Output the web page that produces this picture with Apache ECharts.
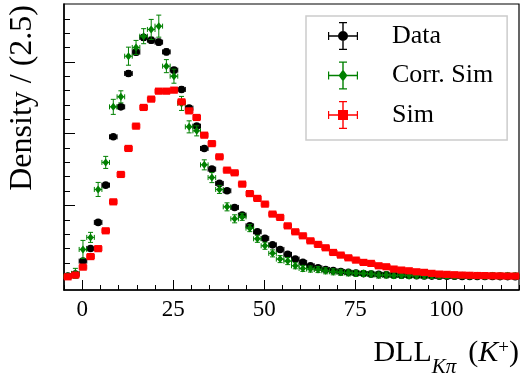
<!DOCTYPE html>
<html>
<head>
<meta charset="utf-8">
<script src="https://cdn.jsdelivr.net/npm/echarts@6/dist/echarts.min.js"></script>
<style>
  html, body { margin: 0; padding: 0; background: #fff; }
  #chart { width: 521px; height: 376px; }
</style>
</head>
<body>
<div id="chart"></div>
<script>
// Histogram binning: 60 equal bins between -5 and 120
const binLow = -5;
const binHigh = 120;
const nBins = 60;

// Normalised densities per bin
const dataDensity = [
  0.00014, 0.00042, 0.00223, 0.00400, 0.00763, 0.01283, 0.01957, 0.02375, 0.02841, 0.03138,
  0.03343, 0.03305, 0.03278, 0.03142, 0.02887, 0.02618, 0.02357, 0.02106, 0.01795, 0.01506,
  0.01307, 0.01204, 0.00972, 0.00865, 0.00715, 0.00632, 0.00540, 0.00450, 0.00386, 0.00317,
  0.00251, 0.00205, 0.00158, 0.00130, 0.00107, 0.00091, 0.00077, 0.00066, 0.00056, 0.00049,
  0.00042, 0.00038, 0.00033, 0.00028, 0.00025, 0.00022, 0.00020, 0.00017, 0.00014, 0.00013,
  0.00012, 0.00011, 0.00010, 0.00010, 0.00009, 0.00008, 0.00008, 0.00007, 0.00007, 0.00006
];
const dataError = [
  0.00010, 0.00014, 0.00014, 0.00016, 0.00022, 0.00026, 0.00030, 0.00034, 0.00038, 0.00040,
  0.00042, 0.00042, 0.00042, 0.00040, 0.00038, 0.00036, 0.00034, 0.00032, 0.00030, 0.00028,
  0.00026, 0.00024, 0.00022, 0.00020, 0.00018, 0.00018, 0.00016, 0.00014, 0.00014, 0.00012,
  0.00012, 0.00010, 0.00010, 0.00010, 0.00008, 0.00008, 0.00008, 0.00008, 0.00006, 0.00006,
  0.00006, 0.00006, 0.00006, 0.00005, 0.00005, 0.00005, 0.00005, 0.00005, 0.00004, 0.00004,
  0.00004, 0.00004, 0.00004, 0.00004, 0.00004, 0.00003, 0.00003, 0.00003, 0.00003, 0.00003
];

const corrSimDensity = [
  0.00014, 0.00052, 0.00386, 0.00554, 0.01223, 0.01600, 0.02375, 0.02515, 0.03082, 0.03204,
  0.03361, 0.03455, 0.03501, 0.02943, 0.02803, 0.02423, 0.02096, 0.02040, 0.01566, 0.01388,
  0.01223, 0.00980, 0.00813, 0.00841, 0.00683, 0.00534, 0.00437, 0.00331, 0.00251, 0.00223,
  0.00158, 0.00121, 0.00112, 0.00105, 0.00088, 0.00074, 0.00066, 0.00059, 0.00052, 0.00050,
  0.00042, 0.00028, 0.00030, 0.00024, 0.00026, 0.00022, 0.00024, 0.00021, 0.00023, 0.00020,
  0.00022, 0.00019, 0.00021, 0.00018, 0.00020, 0.00017, 0.00019, 0.00016, 0.00018, 0.00016
];
const corrSimError = [
  0.00028, 0.00070, 0.00126, 0.00070, 0.00098, 0.00084, 0.00105, 0.00084, 0.00126, 0.00098,
  0.00105, 0.00140, 0.00154, 0.00091, 0.00098, 0.00098, 0.00084, 0.00070, 0.00070, 0.00070,
  0.00056, 0.00056, 0.00056, 0.00049, 0.00049, 0.00049, 0.00049, 0.00049, 0.00049, 0.00049,
  0.00042, 0.00042, 0.00042, 0.00042, 0.00042, 0.00042, 0.00042, 0.00042, 0.00042, 0.00042,
  0.00042, 0.00042, 0.00042, 0.00042, 0.00042, 0.00042, 0.00042, 0.00042, 0.00042, 0.00042,
  0.00042, 0.00042, 0.00042, 0.00042, 0.00042, 0.00042, 0.00042, 0.00042, 0.00042, 0.00042
];

const simDensity = [
  0.00004, 0.00028, 0.00139, 0.00286, 0.00397, 0.00646, 0.01050, 0.01432, 0.01795, 0.02106,
  0.02367, 0.02483, 0.02594, 0.02594, 0.02608, 0.02445, 0.02319, 0.02227, 0.01980, 0.01862,
  0.01678, 0.01492, 0.01455, 0.01297, 0.01165, 0.01098, 0.01018, 0.00879, 0.00833, 0.00715,
  0.00632, 0.00576, 0.00506, 0.00456, 0.00409, 0.00344, 0.00307, 0.00269, 0.00237, 0.00205,
  0.00191, 0.00158, 0.00144, 0.00112, 0.00098, 0.00088, 0.00074, 0.00066, 0.00052, 0.00042,
  0.00038, 0.00033, 0.00028, 0.00025, 0.00022, 0.00021, 0.00018, 0.00017, 0.00014, 0.00014
];
const simError = [
  0.00004, 0.00008, 0.00010, 0.00012, 0.00014, 0.00016, 0.00018, 0.00020, 0.00022, 0.00024,
  0.00024, 0.00026, 0.00026, 0.00026, 0.00026, 0.00026, 0.00024, 0.00024, 0.00022, 0.00022,
  0.00020, 0.00020, 0.00020, 0.00018, 0.00018, 0.00016, 0.00016, 0.00016, 0.00014, 0.00014,
  0.00012, 0.00012, 0.00012, 0.00010, 0.00010, 0.00010, 0.00008, 0.00008, 0.00008, 0.00008,
  0.00006, 0.00006, 0.00006, 0.00006, 0.00006, 0.00005, 0.00005, 0.00005, 0.00004, 0.00004,
  0.00004, 0.00004, 0.00004, 0.00004, 0.00004, 0.00004, 0.00003, 0.00003, 0.00003, 0.00003
];

// Axis ticks
const xMajorTicks = [0, 25, 50, 75, 100];
const xMinorTicks = [-5, 5, 10, 15, 20, 30, 35, 40, 45, 55, 60, 65, 70, 80, 85, 90, 95, 105, 110, 115, 120];
const yMajorTicks = [0, 0.01, 0.02, 0.03];
const yMinorTicks = [0.002, 0.004, 0.006, 0.008, 0.012, 0.014, 0.016, 0.018,
  0.022, 0.024, 0.026, 0.028, 0.032, 0.034, 0.036];
const yMin = -0.0018;
const yMax = 0.0381;

const seriesNames = ['Data', 'Corr. Sim', 'Sim'];
const xTitle = 'DLL';
const yTitle = 'Density / (2.5)';

const FONT = "'Liberation Serif', 'DejaVu Serif', serif";
const binWidth = (binHigh - binLow) / nBins;
const halfBin = binWidth / 2;

function toPoints(vals, errs) {
  return vals.map((v, i) => [binLow + binWidth * (i + 0.5), v, errs[i]]);
}

// Error-bar point renderer: vertical and horizontal bars with end caps plus a marker
function errorBarRenderer(shape, color) {
  return function (params, api) {
    const x = api.value(0), y = api.value(1), e = api.value(2);
    const c = api.coord([x, y]);
    const t = api.coord([x, y + e]);
    const b = api.coord([x, y - e]);
    const l = api.coord([x - halfBin, y]);
    const r = api.coord([x + halfBin, y]);
    const cap = 2.5;
    const ls = { stroke: color, lineWidth: 1 };
    const children = [
      { type: 'line', shape: { x1: c[0], y1: t[1], x2: c[0], y2: b[1] }, style: ls },
      { type: 'line', shape: { x1: l[0], y1: c[1], x2: r[0], y2: c[1] }, style: ls },
      { type: 'line', shape: { x1: c[0] - cap, y1: t[1], x2: c[0] + cap, y2: t[1] }, style: ls },
      { type: 'line', shape: { x1: c[0] - cap, y1: b[1], x2: c[0] + cap, y2: b[1] }, style: ls },
      { type: 'line', shape: { x1: l[0], y1: c[1] - cap, x2: l[0], y2: c[1] + cap }, style: ls },
      { type: 'line', shape: { x1: r[0], y1: c[1] - cap, x2: r[0], y2: c[1] + cap }, style: ls }
    ];
    if (shape === 'circle') {
      children.push({ type: 'circle', shape: { cx: c[0], cy: c[1], r: 3.8 }, style: { fill: color } });
    } else if (shape === 'diamond') {
      children.push({ type: 'polygon', shape: { points: [[c[0], c[1] - 4], [c[0] + 3.2, c[1]], [c[0], c[1] + 4], [c[0] - 3.2, c[1]]] }, style: { fill: color } });
    } else {
      children.push({ type: 'rect', shape: { x: c[0] - 3.8, y: c[1] - 3.6, width: 7.6, height: 7.2 }, style: { fill: color } });
    }
    return { type: 'group', children: children };
  };
}

// Legend icons: an error-bar cross with the series marker
const crossPath = 'M0 13.3H30V14.7H0Z M0 10H1.2V18H0Z M28.8 10H30V18H28.8Z M14.3 0H15.7V28H14.3Z M11 0H19V1.2H11Z M11 26.8H19V28H11Z';
const iconCircle = 'path://' + crossPath + ' M10 14A5 5 0 1 1 20 14A5 5 0 1 1 10 14Z';
const iconDiamond = 'path://' + crossPath + ' M15 8L19.5 14L15 20L10.5 14Z';
const iconSquare = 'path://' + crossPath + ' M10 9H20V19H10Z';

const colors = ['#000000', '#008000', '#ff0000'];

const chart = echarts.init(document.getElementById('chart'), null, { renderer: 'canvas' });

chart.setOption({
  animation: false,
  backgroundColor: '#ffffff',
  grid: {
    left: 64, right: 2, top: 4, bottom: 86,
    show: true, borderColor: '#000', borderWidth: 1.2, backgroundColor: 'transparent'
  },
  xAxis: [
    {
      type: 'value', min: binLow, max: binHigh, position: 'bottom',
      axisLine: { show: true, onZero: false, lineStyle: { color: '#000', width: 1.5 } },
      axisTick: { show: true, inside: true, length: 10, customValues: xMajorTicks, lineStyle: { color: '#000', width: 1 } },
      axisLabel: { show: true, customValues: xMajorTicks, fontSize: 23, fontFamily: FONT, color: '#000', margin: 8 },
      splitLine: { show: false }
    },
    {
      type: 'value', min: binLow, max: binHigh, position: 'bottom',
      axisLine: { show: false, onZero: false },
      axisTick: { show: true, inside: true, length: 5, customValues: xMinorTicks, lineStyle: { color: '#000', width: 1 } },
      axisLabel: { show: false },
      splitLine: { show: false }
    }
  ],
  yAxis: [
    {
      type: 'value', min: yMin, max: yMax, position: 'left',
      axisLine: { show: true, onZero: false, lineStyle: { color: '#000', width: 1.5 } },
      axisTick: { show: true, inside: true, length: 11, customValues: yMajorTicks, lineStyle: { color: '#000', width: 1 } },
      axisLabel: { show: false },
      splitLine: { show: false }
    },
    {
      type: 'value', min: yMin, max: yMax, position: 'left',
      axisLine: { show: false, onZero: false },
      axisTick: { show: true, inside: true, length: 6, customValues: yMinorTicks, lineStyle: { color: '#000', width: 1 } },
      axisLabel: { show: false },
      splitLine: { show: false }
    }
  ],
  legend: {
    orient: 'vertical',
    left: 306, top: 16,
    padding: [6, 14, 11, 22],
    itemGap: 11.5,
    itemWidth: 30, itemHeight: 28,
    backgroundColor: '#fff',
    borderColor: '#cccccc', borderWidth: 1.5,
    textStyle: { fontSize: 26, fontFamily: FONT, color: '#000', padding: [0, 0, 0, 29] },
    data: [
      { name: seriesNames[0], icon: iconCircle },
      { name: seriesNames[1], icon: iconDiamond },
      { name: seriesNames[2], icon: iconSquare }
    ]
  },
  graphic: [
    {
      type: 'text', right: 2, top: 338.5,
      style: {
        text: '{m|' + xTitle + '}{s|Kπ}{g|(}{i|K}{p|+}{m|)}',
        fill: '#000',
        rich: {
          m: { fontSize: 30, fontFamily: FONT, lineHeight: 33, verticalAlign: 'top' },
          g: { fontSize: 30, fontFamily: FONT, lineHeight: 33, verticalAlign: 'top', padding: [0, 0, 0, 12] },
          i: { fontSize: 30, fontFamily: FONT, fontStyle: 'italic', lineHeight: 33, verticalAlign: 'top' },
          s: { fontSize: 21, fontFamily: FONT, fontStyle: 'italic', lineHeight: 39, verticalAlign: 'bottom' },
          p: { fontSize: 19, fontFamily: FONT, lineHeight: 15, verticalAlign: 'top' }
        }
      }
    },
    {
      type: 'text', x: 23, y: 5, rotation: Math.PI / 2,
      style: {
        text: yTitle, fill: '#000', fontSize: 32, fontFamily: FONT,
        align: 'right', verticalAlign: 'middle'
      }
    }
  ],
  series: [
    {
      name: seriesNames[0], type: 'custom', xAxisIndex: 0, yAxisIndex: 0,
      itemStyle: { color: colors[0] },
      renderItem: errorBarRenderer('circle', colors[0]),
      encode: { x: 0, y: 1 },
      data: toPoints(dataDensity, dataError), z: 2
    },
    {
      name: seriesNames[1], type: 'custom', xAxisIndex: 0, yAxisIndex: 0,
      itemStyle: { color: colors[1] },
      renderItem: errorBarRenderer('diamond', colors[1]),
      encode: { x: 0, y: 1 },
      data: toPoints(corrSimDensity, corrSimError), z: 3
    },
    {
      name: seriesNames[2], type: 'custom', xAxisIndex: 0, yAxisIndex: 0,
      itemStyle: { color: colors[2] },
      renderItem: errorBarRenderer('square', colors[2]),
      encode: { x: 0, y: 1 },
      data: toPoints(simDensity, simError), z: 4
    }
  ]
});
</script>
</body>
</html>
